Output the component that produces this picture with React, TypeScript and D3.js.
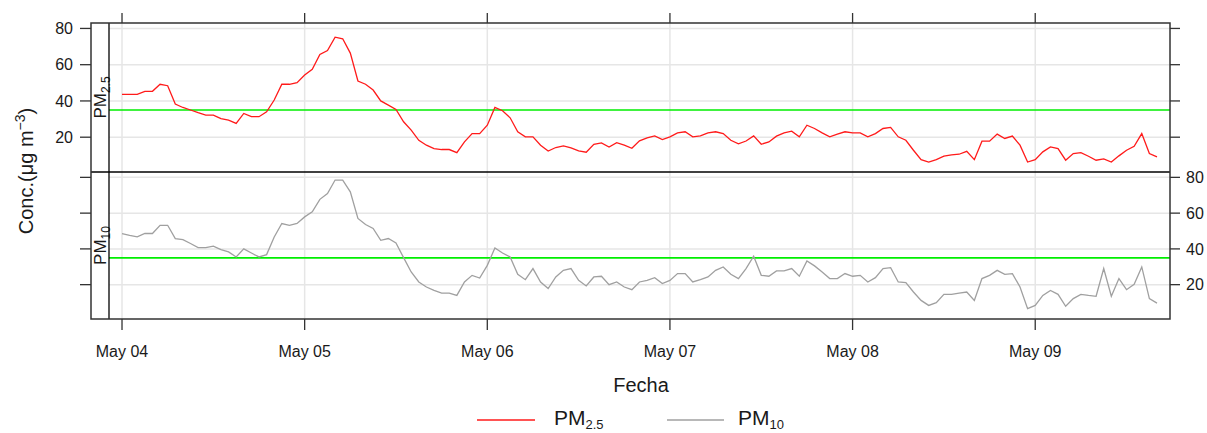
import * as d3 from "d3";

// hourly values, May 04 00:00 -> May 09 16:00
const pm25 = [
  43.6, 43.6, 43.6, 45.3, 45.3, 49.2, 48.4, 38.3, 36.4, 35.0, 33.5, 32.2, 32.2, 30.2, 29.4, 27.6,
  33.1, 31.3, 31.3, 34.0, 40.5, 49.2, 49.2, 50.1, 54.3, 57.5, 65.6, 67.8, 75.2, 74.3, 66.4, 51.0,
  49.2, 46.0, 40.0, 37.7, 35.3, 28.5, 23.9, 18.3, 15.6, 13.7, 13.2, 13.2, 11.5, 17.4, 22.0, 22.0,
  26.6, 36.4, 34.6, 30.7, 23.0, 20.2, 20.2, 15.6, 12.4, 14.3, 15.2, 14.1, 12.4, 11.7, 16.1, 16.9,
  14.6, 17.0, 15.6, 13.9, 18.0, 19.6, 20.7, 18.7, 20.2, 22.4, 23.0, 20.2, 20.7, 22.4, 23.0, 22.0,
  18.3, 16.3, 17.9, 20.7, 16.1, 17.4, 20.6, 22.4, 23.3, 20.2, 26.6, 24.8, 22.4, 20.2, 21.7, 23.0,
  22.4, 22.4, 20.2, 22.0, 24.8, 25.4, 20.2, 18.3, 12.8, 7.6, 6.3, 7.6, 9.5, 10.2, 10.6, 12.2,
  7.6, 17.8, 17.8, 21.7, 19.3, 20.6, 15.6, 6.3, 7.6, 11.9, 14.6, 13.7, 7.3, 11.0, 11.5, 9.5,
  7.3, 8.0, 6.3, 9.7, 12.8, 15.0, 22.0, 11.0, 9.1,
];
const pm10 = [
  48.6, 47.6, 46.7, 48.6, 48.6, 53.2, 53.2, 45.8, 45.2, 43.0, 40.7, 40.7, 41.5, 39.6, 38.3, 35.5,
  40.0, 37.7, 35.5, 36.8, 46.7, 54.2, 53.2, 54.2, 57.9, 60.7, 67.7, 71.0, 78.5, 78.5, 71.9, 57.0,
  53.6, 51.4, 44.8, 45.8, 43.3, 35.1, 27.1, 21.5, 18.7, 16.8, 15.3, 15.3, 14.0, 21.5, 25.2, 23.7,
  30.8, 40.5, 37.7, 35.5, 25.8, 22.8, 29.0, 21.5, 17.8, 24.3, 28.0, 29.0, 22.4, 19.3, 24.3, 24.7,
  20.0, 21.5, 18.7, 17.2, 21.5, 22.4, 23.9, 20.6, 22.4, 26.2, 26.2, 21.5, 22.8, 24.3, 28.0, 29.9,
  25.8, 23.4, 29.0, 35.9, 25.2, 24.7, 27.7, 27.7, 29.0, 24.7, 33.3, 30.5, 27.1, 23.4, 23.4, 26.2,
  24.7, 25.2, 21.5, 23.9, 29.0, 29.5, 21.5, 21.1, 15.9, 11.2, 8.4, 9.9, 14.6, 14.6, 15.3, 15.9,
  11.2, 23.4, 25.2, 28.0, 25.8, 26.2, 18.7, 6.6, 8.4, 14.0, 16.8, 14.6, 7.9, 12.2, 14.6, 14.0,
  13.5, 29.0, 13.5, 23.4, 17.2, 20.2, 29.9, 12.2, 9.7,
];
const yTicks = [20, 40, 60, 80];
const dayLabels = ["May 04", "May 05", "May 06", "May 07", "May 08", "May 09"];
const limit = 35;

const start = new Date(2021, 4, 4, 0);
const hour = (h: number) => new Date(start.getTime() + h * 3600 * 1000);

const W = 1207;
const H = 433;
const frameL = 91;
const plotL = 109;
const plotR = 1170;
const font = "'Liberation Sans', Arial, sans-serif";
const ink = "#1a1a1a";

const panels = [
  { name: "PM", sub: "2.5", values: pm25, color: "#ff1a1a", top: 23, bottom: 172, labelSide: "left" },
  { name: "PM", sub: "10", values: pm10, color: "#a0a0a0", top: 172, bottom: 319, labelSide: "right" },
];

const App = () => {
  const x = d3.scaleTime().domain([hour(-1.71), hour(137.71)]).range([plotL, plotR]);
  const days = dayLabels.map((_, i) => d3.timeDay.offset(start, i));

  return (
    <svg width={W} height={H} style={{ position: "absolute", left: 0, top: 0 }} fontFamily={font}>
      <rect width={W} height={H} fill="#fff" />
      {panels.map((p) => {
        const y = d3.scaleLinear().domain([0.8, 83]).range([p.bottom, p.top]);
        const line = d3
          .line<number>()
          .x((_, i) => x(hour(i)))
          .y((d) => y(d));
        const mid = (p.top + p.bottom) / 2;
        return (
          <g key={p.sub}>
            {yTicks.map((t) => (
              <line key={"g" + t} x1={plotL} x2={plotR} y1={y(t)} y2={y(t)} stroke="#e6e6e6" strokeWidth={1.5} />
            ))}
            {days.map((d, i) => (
              <line key={"v" + i} x1={x(d)} x2={x(d)} y1={p.top} y2={p.bottom} stroke="#e6e6e6" strokeWidth={1.5} />
            ))}
            <line x1={plotL} x2={plotR} y1={y(limit)} y2={y(limit)} stroke="#00ee00" strokeWidth={1.6} />
            <path d={line(p.values)!} fill="none" stroke={p.color} strokeWidth={1.3} />
            {yTicks.map((t) => (
              <g key={"t" + t}>
                <line x1={frameL - 11} x2={frameL} y1={y(t)} y2={y(t)} stroke="#333" strokeWidth={1.3} />
                <line x1={plotR} x2={plotR + 10} y1={y(t)} y2={y(t)} stroke="#333" strokeWidth={1.3} />
                {p.labelSide === "left" ? (
                  <text x={73} y={y(t)} dy="0.36em" textAnchor="end" fontSize={16} fill={ink}>
                    {t}
                  </text>
                ) : (
                  <text x={1186} y={y(t)} dy="0.36em" textAnchor="start" fontSize={16} fill={ink}>
                    {t}
                  </text>
                )}
              </g>
            ))}
            <text transform={`translate(${(frameL + plotL) / 2 + 6},${mid}) rotate(-90)`} textAnchor="middle" fontSize={17} fill={ink}>
              {p.name}
              <tspan fontSize={12} dy={4}>{p.sub}</tspan>
            </text>
          </g>
        );
      })}
      <line x1={frameL} x2={plotR} y1={172} y2={172} stroke="#000" strokeWidth={1.3} />
      <line x1={plotL} x2={plotL} y1={23} y2={319} stroke="#000" strokeWidth={1.3} />
      <rect x={frameL} y={23} width={plotR - frameL} height={319 - 23} fill="none" stroke="#333" strokeWidth={1.5} />
      {days.map((d, i) => (
        <g key={"x" + i}>
          <line x1={x(d)} x2={x(d)} y1={13} y2={23} stroke="#333" strokeWidth={1.3} />
          <line x1={x(d)} x2={x(d)} y1={319} y2={330} stroke="#333" strokeWidth={1.3} />
          <text x={x(d)} y={357} textAnchor="middle" fontSize={16} fill={ink}>
            {dayLabels[i]}
          </text>
        </g>
      ))}
      <text transform="translate(33,171) rotate(-90)" textAnchor="middle" fontSize={20} fill={ink}>
        Conc.(μg m
        <tspan fontSize={14} dy={-8}>−3</tspan>
        <tspan dy={8}>)</tspan>
      </text>
      <text x={641} y={392} textAnchor="middle" fontSize={20} fill={ink}>
        Fecha
      </text>
      <line x1={477} x2={535} y1={420} y2={420} stroke="#ff1a1a" strokeWidth={1.5} />
      <text x={554} y={425} fontSize={21} fill={ink}>
        PM<tspan fontSize={13} dy={4}>2.5</tspan>
      </text>
      <line x1={667} x2={724} y1={420} y2={420} stroke="#a0a0a0" strokeWidth={1.5} />
      <text x={738} y={425} fontSize={21} fill={ink}>
        PM<tspan fontSize={13} dy={4}>10</tspan>
      </text>
    </svg>
  );
};

export default App;
